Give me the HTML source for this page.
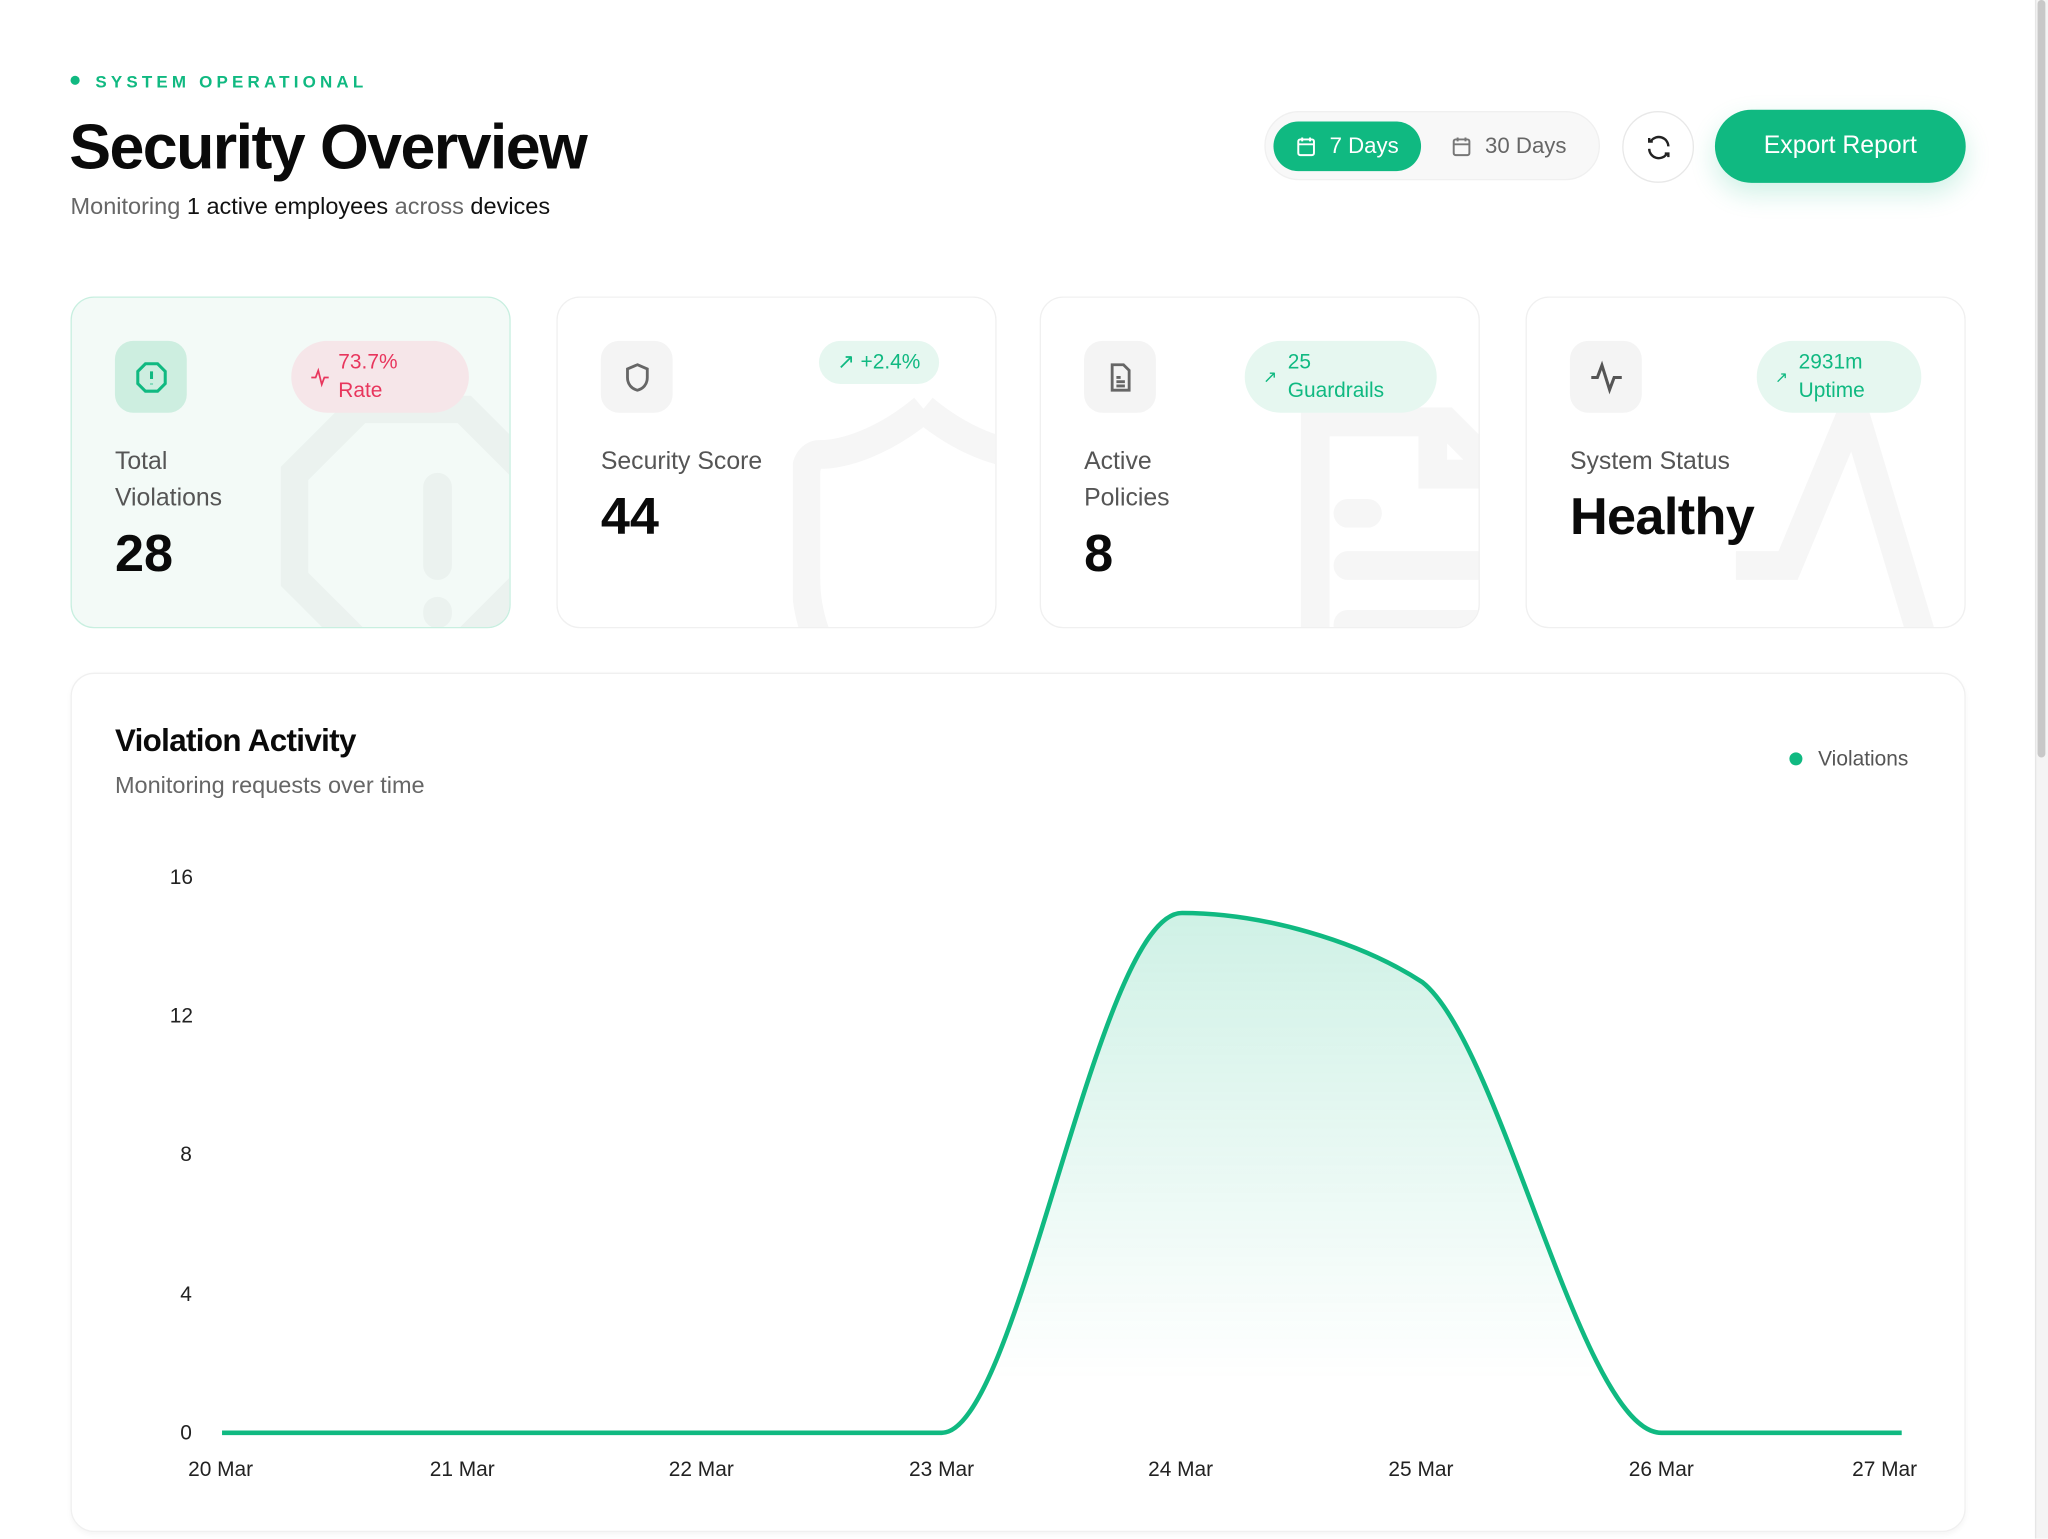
<!DOCTYPE html>
<html><head><meta charset="utf-8"><style>
*{box-sizing:border-box;margin:0;padding:0}
html,body{width:2048px;height:1539px;overflow:hidden;background:#fff;font-family:"Liberation Sans",sans-serif}
#w{position:absolute;left:0;top:0;width:1568px;height:1178px;transform:scale(1.30612);transform-origin:0 0}
.a{position:absolute}
.card{position:absolute;top:227px;width:337px;height:254px;border:1.5px solid #f0f0f0;border-radius:18px;background:#fff;overflow:hidden}
.ic{position:absolute;left:33px;top:33px;width:55px;height:55px;border-radius:14px;background:#f4f4f4;display:flex;align-items:center;justify-content:center}
.pill{position:absolute;top:33px;height:55px;border-radius:28px;background:#e6f7f0;color:#10b981;font-size:16px;line-height:22px;display:flex;align-items:center;padding:0 14px}
.lbl{position:absolute;left:33px;top:112px;color:#555;font-size:19px;line-height:28px}
.val{position:absolute;left:33px;color:#0a0a0a;font-weight:bold;font-size:40px}
.tk{position:absolute;font-size:16px;color:#222}
</style></head><body><div id="w">
<div class="a" style="left:54px;top:58px;width:7px;height:7px;border-radius:50%;background:#10b981"></div>
<div class="a" style="left:73px;top:55px;font-size:13px;font-weight:bold;letter-spacing:3.2px;color:#10b981">SYSTEM OPERATIONAL</div>
<div class="a" style="left:53px;top:86px;font-size:48px;font-weight:bold;letter-spacing:-1.2px;color:#0a0a0a">Security Overview</div>
<div class="a" style="left:54px;top:148px;font-size:18px;color:#666">Monitoring <span style="color:#111">1 active employees</span> across <span style="color:#111">devices</span></div>

<div class="a" style="left:968px;top:85px;width:257px;height:53px;border-radius:27px;background:#f8f8f8;border:1px solid #f0f0f0"></div>
<div class="a" style="left:975px;top:93px;width:113px;height:38px;border-radius:19px;background:#10b981;color:#fff;font-size:17px;display:flex;align-items:center;padding-left:16px">
<svg width="18" height="18" viewBox="0 0 24 24" fill="none" stroke="#fff" stroke-width="2"><rect x="4" y="5" width="16" height="16" rx="2"/><path d="M8 3v4M16 3v4M4 10h16"/></svg><span style="margin-left:9px">7 Days</span></div>
<div class="a" style="left:1110px;top:93px;height:38px;color:#666;font-size:17px;display:flex;align-items:center">
<svg width="18" height="18" viewBox="0 0 24 24" fill="none" stroke="#777" stroke-width="2"><rect x="4" y="5" width="16" height="16" rx="2"/><path d="M8 3v4M16 3v4M4 10h16"/></svg><span style="margin-left:9px">30 Days</span></div>
<div class="a" style="left:1242px;top:85px;width:55px;height:55px;border-radius:50%;border:1.5px solid #e8e8e8;display:flex;align-items:center;justify-content:center">
<svg width="22" height="22" viewBox="0 0 24 24" fill="none" stroke="#222" stroke-width="2"><path d="M20 11a8 8 0 0 0-14.5-4.5M4 4v3h3M4 13a8 8 0 0 0 14.5 4.5M20 20v-3h-3"/></svg></div>
<div class="a" style="left:1313px;top:84px;width:192px;height:56px;border-radius:28px;background:#10b981;color:#fff;font-size:19px;display:flex;align-items:center;justify-content:center;box-shadow:0 8px 20px rgba(16,185,129,.2)">Export Report</div>

<div class="card" style="left:54px;background:#f3faf7;border-color:#c8efe0">
<svg class="a" style="left:160px;top:75px" width="200" height="200" viewBox="0 0 200 200" fill="none" stroke="#ebf2ef" stroke-width="22"><path d="M60 10h80l50 50v80l-50 50H60L10 140V60z"/><path d="M120 70v60M120 165v2" stroke-linecap="round"/></svg>
<div class="ic" style="background:#cdeee0"><svg width="28" height="28" viewBox="0 0 24 24" fill="none" stroke="#10b981" stroke-width="2"><path d="M8 3h8l5 5v8l-5 5H8l-5-5V8z"/><path d="M12 8v5M12 16v.5"/></svg></div>
<div class="pill" style="left:168px;width:136px;background:#f6e6e9;color:#e8365d"><svg width="16" height="16" viewBox="0 0 24 24" fill="none" stroke="#e8365d" stroke-width="2"><path d="M2 12h5l3-8 4 16 3-8h5"/></svg><span style="margin-left:6px">73.7%<br>Rate</span></div>
<div class="lbl">Total<br>Violations</div>
<div class="val" style="top:174px">28</div></div>

<div class="card" style="left:426px">
<svg class="a" style="left:180px;top:75px" width="180" height="200" viewBox="0 0 180 200" fill="none" stroke="#f6f6f6" stroke-width="22"><path d="M100 10c-30 25-60 35-80 35-5 0-10 5-10 15v80c0 30 10 50 20 70M100 10c30 25 60 35 80 35"/></svg>
<div class="ic"><svg width="26" height="26" viewBox="0 0 24 24" fill="none" stroke="#666" stroke-width="2"><path d="M12 3l7 3v6c0 5-3 8-7 9-4-1-7-4-7-9V6z"/></svg></div>
<div class="pill" style="left:200px;height:33px"><span>↗ +2.4%</span></div>
<div class="lbl">Security Score</div>
<div class="val" style="top:146px">44</div></div>

<div class="card" style="left:796px">
<svg class="a" style="left:180px;top:75px" width="180" height="200" viewBox="0 0 180 200" fill="none" stroke="#f6f6f6" stroke-width="22"><path d="M30 200V20h100l40 40v140M120 20v40h40M55 90h15M55 130h100M55 175h100" stroke-linecap="round"/></svg>
<div class="ic"><svg width="26" height="26" viewBox="0 0 24 24" fill="none" stroke="#666" stroke-width="2"><path d="M6 3h8l4 4v14H6zM9 12h3M9 15h6M9 18h6"/></svg></div>
<div class="pill" style="left:156px;width:147px"><span style="font-size:13px">↗</span><span style="margin-left:8px">25<br>Guardrails</span></div>
<div class="lbl">Active<br>Policies</div>
<div class="val" style="top:174px">8</div></div>

<div class="card" style="left:1168px">
<svg class="a" style="left:160px;top:75px" width="200" height="200" viewBox="0 0 200 200" fill="none" stroke="#f6f6f6" stroke-width="22"><path d="M0 130h40l50-120 60 200"/></svg>
<div class="ic"><svg width="28" height="28" viewBox="0 0 24 24" fill="none" stroke="#555" stroke-width="2"><path d="M2 12h4l3-8 5 16 3-8h5"/></svg></div>
<div class="pill" style="left:176px;width:126px"><span style="font-size:12px">↗</span><span style="margin-left:8px">2931m<br>Uptime</span></div>
<div class="lbl">System Status</div>
<div class="val" style="top:146px;letter-spacing:-.5px">Healthy</div></div>

<div class="a" style="left:54px;top:515px;width:1451px;height:658px;border:1.5px solid #f0f0f0;border-radius:18px;box-shadow:0 2px 4px rgba(0,0,0,.04)"></div>
<div class="a" style="left:88px;top:554px;font-size:24px;font-weight:bold;color:#0a0a0a;letter-spacing:-.5px">Violation Activity</div>
<div class="a" style="left:88px;top:591px;font-size:18px;color:#666">Monitoring requests over time</div>
<div class="a" style="left:1370px;top:576px;width:10px;height:10px;border-radius:50%;background:#10b981"></div>
<div class="a" style="left:1392px;top:573px;font-size:16px;color:#555">Violations</div>

<div class="tk" style="left:130px;top:664px">16</div>
<div class="tk" style="left:130px;top:770px">12</div>
<div class="tk" style="left:138px;top:876px">8</div>
<div class="tk" style="left:138px;top:983px">4</div>
<div class="tk" style="left:138px;top:1089px">0</div>
<div class="tk" style="left:144px;top:1117px">20 Mar</div>
<div class="tk" style="left:329px;top:1117px">21 Mar</div>
<div class="tk" style="left:512px;top:1117px">22 Mar</div>
<div class="tk" style="left:696px;top:1117px">23 Mar</div>
<div class="tk" style="left:879px;top:1117px">24 Mar</div>
<div class="tk" style="left:1063px;top:1117px">25 Mar</div>
<div class="tk" style="left:1247px;top:1117px">26 Mar</div>
<div class="tk" style="left:1418px;top:1117px">27 Mar</div>
<svg class="a" style="left:0;top:0" width="1568" height="1178">
<defs><linearGradient id="g" gradientUnits="userSpaceOnUse" x1="0" y1="699" x2="0" y2="1097"><stop offset="0" stop-color="#10b981" stop-opacity=".2"/><stop offset="0.9" stop-color="#10b981" stop-opacity="0"/></linearGradient></defs>
<path d="M170,1097 L721,1097 C780,1097 840,699 905,699 C966,699 1040,720 1089,752 C1150,800 1211,1097 1272,1097 L1456,1097 Z" fill="url(#g)"/>
<path d="M170,1097 L721,1097 C780,1097 840,699 905,699 C966,699 1040,720 1089,752 C1150,800 1211,1097 1272,1097 L1456,1097" fill="none" stroke="#10b981" stroke-width="3.5"/>
</svg>
<div class="a" style="left:1558px;top:0;width:10px;height:1178px;background:#f4f4f4;border-left:1px solid #e6e6e6"></div>
<div class="a" style="left:1560px;top:0;width:6px;height:580px;border-radius:3px;background:#c8c8c8"></div>
</div></body></html>
